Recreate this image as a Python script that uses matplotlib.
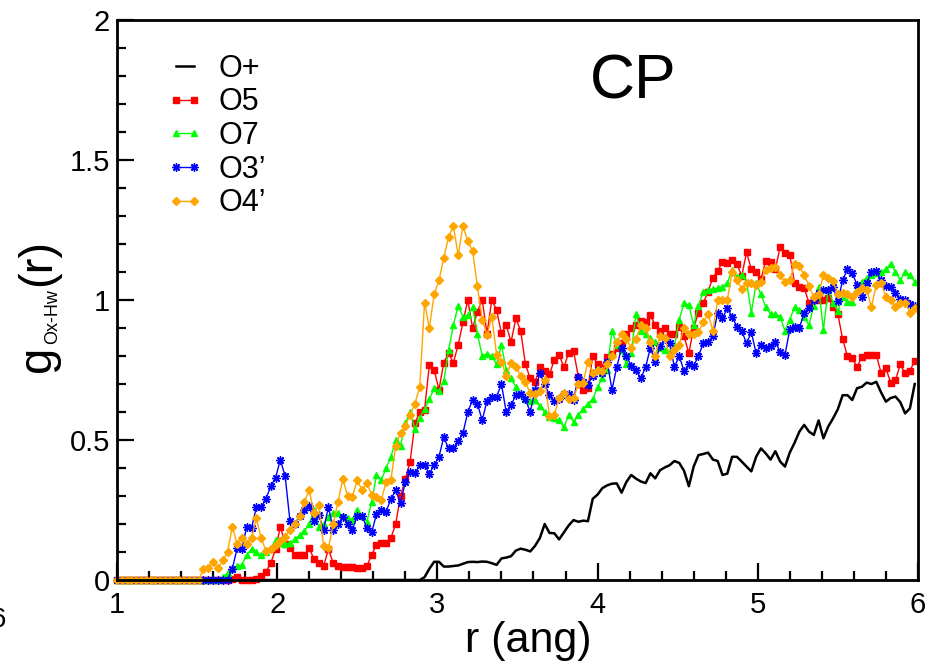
import matplotlib
matplotlib.use("Agg")
import matplotlib.pyplot as plt
import numpy as np
from matplotlib.ticker import MultipleLocator, FuncFormatter

plt.rcParams['font.family'] = ['Liberation Sans', 'DejaVu Sans']

# radial grid step (angstrom), first point at r = 1
R0 = 1.0
DR = 0.03

labels = ['O+', 'O5', 'O7', 'O3\u2019', 'O4\u2019']

# g(r) values, one value per grid point
g_oplus = [0.0] * 64 + [
    0.01, 0.04, 0.065, 0.065, 0.048, 0.048, 0.050, 0.052, 0.058, 0.064,
    0.065, 0.064, 0.066, 0.065, 0.060, 0.054, 0.077, 0.080, 0.085, 0.105,
    0.112, 0.108, 0.102, 0.122, 0.150, 0.200, 0.168, 0.167, 0.145, 0.170,
    0.195, 0.214, 0.208, 0.212, 0.210, 0.290, 0.305, 0.328, 0.338, 0.344,
    0.345, 0.312, 0.350, 0.375, 0.362, 0.352, 0.346, 0.381, 0.363, 0.392,
    0.402, 0.410, 0.425, 0.418, 0.390, 0.335, 0.405, 0.446, 0.450, 0.455,
    0.430, 0.425, 0.375, 0.380, 0.440, 0.440, 0.423, 0.405, 0.388, 0.440,
    0.470, 0.452, 0.430, 0.460, 0.423, 0.405, 0.455, 0.490, 0.530, 0.554,
    0.530, 0.518, 0.570, 0.506, 0.548, 0.577, 0.610, 0.660, 0.660, 0.643,
    0.685, 0.690, 0.705, 0.700, 0.708, 0.670, 0.637, 0.650, 0.655, 0.635,
    0.595, 0.613, 0.700]

g_o5 = [0.0] * 24 + [
    0.005, 0.01, 0.0, 0.0, 0.0, 0.005, 0.015, 0.03, 0.06, 0.11,
    0.19, 0.13, 0.115, 0.09, 0.09, 0.09, 0.113, 0.075, 0.06, 0.05,
    0.11, 0.06, 0.05, 0.045, 0.045, 0.045, 0.042, 0.042, 0.05, 0.09,
    0.125, 0.131, 0.133, 0.15, 0.20, 0.30, 0.36, 0.423, 0.56, 0.60,
    0.607, 0.768, 0.75, 0.68, 0.776, 0.81, 0.776, 0.84, 0.92, 1.0,
    0.90, 0.958, 1.0, 0.88, 1.0, 0.964, 0.881, 0.911, 0.85, 0.934,
    0.89, 0.77, 0.72, 0.708, 0.76, 0.745, 0.735, 0.785, 0.804, 0.76,
    0.812, 0.819, 0.726, 0.68, 0.685, 0.80, 0.77, 0.762, 0.798, 0.807,
    0.827, 0.845, 0.88, 0.899, 0.91, 0.926, 0.923, 0.946, 0.91, 0.89,
    0.90, 0.88, 0.88, 0.905, 0.87, 0.81, 0.90, 0.955, 0.99, 1.03,
    1.08, 1.105, 1.135, 1.133, 1.143, 1.13, 1.085, 1.17, 1.11, 1.10,
    1.075, 1.14, 1.137, 1.11, 1.19, 1.167, 1.161, 1.06, 1.048, 1.042,
    0.99, 1.0, 1.0, 1.0, 1.006, 0.975, 0.95, 0.86, 0.80, 0.792,
    0.76, 0.798, 0.804, 0.804, 0.804, 0.74, 0.756, 0.705, 0.714, 0.77,
    0.738, 0.747, 0.783]

g_o7 = [0.0] * 22 + [
    0.01, 0.025, 0.04, 0.05, 0.054, 0.09, 0.11, 0.10, 0.089, 0.10,
    0.113, 0.143, 0.131, 0.13, 0.131, 0.145, 0.16, 0.175, 0.20, 0.25,
    0.19, 0.20, 0.225, 0.238, 0.238, 0.23, 0.22, 0.214, 0.25, 0.23,
    0.208, 0.28, 0.375, 0.357, 0.40, 0.44, 0.50, 0.48, 0.56, 0.60,
    0.54, 0.58, 0.61, 0.645, 0.685, 0.675, 0.71, 0.82, 0.91, 0.98,
    0.94, 0.946, 0.975, 0.88, 0.80, 0.808, 0.80, 0.77, 0.84, 0.75,
    0.72, 0.69, 0.665, 0.645, 0.64, 0.643, 0.62, 0.60, 0.583, 0.577,
    0.571, 0.545, 0.59, 0.565, 0.59, 0.61, 0.63, 0.645, 0.69, 0.72,
    0.75, 0.89, 0.84, 0.82, 0.77, 0.81, 0.95, 0.89, 0.88, 0.865,
    0.85, 0.827, 0.82, 0.815, 0.833, 0.93, 0.99, 0.982, 0.91, 0.98,
    1.03, 1.036, 1.04, 1.042, 1.048, 1.06, 1.107, 1.083, 1.089, 1.065,
    0.955, 1.06, 1.02, 0.975, 0.95, 0.95, 0.94, 0.89, 0.93, 0.975,
    0.964, 0.94, 0.91, 0.98, 1.045, 0.893, 1.04, 0.99, 0.96, 1.01,
    0.994, 0.994, 1.04, 1.065, 1.08, 1.09, 1.096, 1.10, 1.11, 1.13,
    1.10, 1.071, 1.10, 1.09, 1.065]

g_o3p = [0.0] * 24 + [
    0.04, 0.113, 0.11, 0.19, 0.185, 0.26, 0.26, 0.29, 0.335, 0.365,
    0.43, 0.37, 0.21, 0.20, 0.23, 0.25, 0.265, 0.21, 0.232, 0.18,
    0.262, 0.179, 0.20, 0.225, 0.20, 0.18, 0.23, 0.23, 0.185, 0.17,
    0.235, 0.25, 0.244, 0.29, 0.32, 0.275, 0.35, 0.384, 0.381, 0.411,
    0.411, 0.38, 0.41, 0.44, 0.51, 0.47, 0.47, 0.495, 0.525, 0.60,
    0.643, 0.63, 0.57, 0.64, 0.655, 0.655, 0.70, 0.60, 0.625, 0.66,
    0.665, 0.645, 0.60, 0.68, 0.738, 0.70, 0.66, 0.64, 0.645, 0.665,
    0.665, 0.643, 0.726, 0.708, 0.696, 0.73, 0.75, 0.74, 0.78, 0.68,
    0.76, 0.83, 0.80, 0.765, 0.75, 0.72, 0.76, 0.83, 0.78, 0.835,
    0.86, 0.845, 0.76, 0.80, 0.745, 0.77, 0.765, 0.80, 0.845, 0.851,
    0.87, 0.955, 0.935, 0.97, 0.94, 0.905, 0.89, 0.845, 0.885, 0.81,
    0.84, 0.83, 0.837, 0.85, 0.815, 0.804, 0.895, 0.905, 0.90, 0.955,
    0.972, 1.0, 1.024, 1.036, 1.036, 1.046, 0.995, 1.07, 1.11, 1.095,
    1.055, 1.01, 1.06, 1.10, 1.103, 1.07, 1.05, 1.048, 1.025, 1.005,
    1.0, 0.984, 0.98]

g_o4p = [0.0] * 18 + [
    0.04, 0.042, 0.065, 0.042, 0.07, 0.10, 0.19, 0.13, 0.15, 0.13,
    0.149, 0.22, 0.15, 0.105, 0.11, 0.125, 0.14, 0.155, 0.18, 0.20,
    0.23, 0.28, 0.32, 0.24, 0.268, 0.12, 0.113, 0.20, 0.28, 0.36,
    0.30, 0.298, 0.357, 0.32, 0.345, 0.305, 0.295, 0.286, 0.35, 0.357,
    0.48, 0.524, 0.55, 0.59, 0.63, 0.69, 0.99, 0.90, 1.02, 1.07,
    1.15, 1.225, 1.264, 1.16, 1.264, 1.21, 1.175, 1.05, 0.93, 0.875,
    0.94, 0.805, 0.78, 0.73, 0.774, 0.76, 0.73, 0.706, 0.667, 0.664,
    0.675, 0.715, 0.585, 0.589, 0.65, 0.667, 0.645, 0.649, 0.70, 0.705,
    0.78, 0.738, 0.75, 0.748, 0.77, 0.80, 0.85, 0.88, 0.86, 0.83,
    0.86, 0.91, 0.90, 0.85, 0.80, 0.87, 0.865, 0.80, 0.82, 0.84,
    0.90, 0.88, 0.88, 0.885, 0.92, 0.95, 0.89, 1.0, 1.0, 1.0,
    1.10, 1.07, 1.04, 1.06, 1.06, 1.055, 1.065, 1.107, 1.113, 1.119,
    1.09, 1.065, 1.07, 1.13, 1.12, 1.09, 1.05, 1.01, 1.02, 1.09,
    1.08, 1.067, 1.02, 1.024, 1.02, 1.01, 1.03, 1.042, 1.036, 0.976,
    1.054, 1.062, 1.01, 1.0, 0.975, 0.99, 0.99, 0.955, 0.97]

series = [g_oplus, g_o5, g_o7, g_o3p, g_o4p]
colors = ['black', '#ff0000', '#00ff00', '#0000ff', '#ffa500']
markers = [None, 's', '^', (8, 2, 0), 'D']
msizes = [0, 4.5, 5, 6, 4]
lwidths = [1.8, 1.0, 1.0, 1.0, 1.0]

fig = plt.figure(figsize=(9.38, 6.64), dpi=100)
ax = fig.add_axes([0.1247, 0.1265, 0.8539, 0.8434])

for g, lab, c, m, ms, lw in zip(series, labels, colors, markers, msizes, lwidths):
    r = R0 + DR * np.arange(len(g))
    ax.plot(r, g, color=c, marker=m, markersize=ms, markeredgewidth=1.0,
            linewidth=lw, label=lab, clip_on=False)

ax.set_xlim(1, 6)
ax.set_ylim(0, 2)
ax.xaxis.set_major_locator(MultipleLocator(1))
ax.xaxis.set_minor_locator(MultipleLocator(0.2))
ax.yaxis.set_major_locator(MultipleLocator(0.5))
ax.yaxis.set_minor_locator(MultipleLocator(0.1))
fmt = FuncFormatter(lambda v, p: f'{v:g}')
ax.xaxis.set_major_formatter(fmt)
ax.yaxis.set_major_formatter(fmt)

ax.tick_params(which='both', direction='in', top=False, right=False,
               width=1.6, labelsize=21)
ax.tick_params(which='major', length=12)
ax.tick_params(which='minor', length=6.5)
ax.tick_params(axis='x', pad=8)
ax.tick_params(axis='y', pad=5)
for s in ax.spines.values():
    s.set_linewidth(2.0)

leg = ax.legend(loc='upper left', bbox_to_anchor=(0.062, 0.94),
                frameon=False, numpoints=2, fontsize=22,
                handlelength=1.2, handletextpad=0.5, labelspacing=0.12,
                borderpad=0, borderaxespad=0)

ax.text(0.644, 0.859, 'CP', transform=ax.transAxes, fontsize=45,
        ha='center', va='baseline')

# x label
fig.text(528 / 938, 1 - 652 / 664, 'r (ang)', fontsize=31,
         ha='center', va='baseline')

# y label built from pieces: g, small subscript, (r)
fig.text(50 / 938, 1 - 372 / 664, 'g', fontsize=34, rotation=90,
         rotation_mode='anchor', ha='left', va='baseline')
fig.text(57 / 938, 1 - 344 / 664, 'Ox-Hw', fontsize=13, rotation=90,
         rotation_mode='anchor', ha='left', va='baseline')
fig.text(50 / 938, 1 - 286 / 664, '(r)', fontsize=34, rotation=90,
         rotation_mode='anchor', ha='left', va='baseline')

# cut-off label of the neighbouring panel at the left edge
fig.text(-9 / 938, 1 - 627 / 664, '6', fontsize=20, ha='left', va='baseline')

fig.savefig('out.png', dpi=100)
